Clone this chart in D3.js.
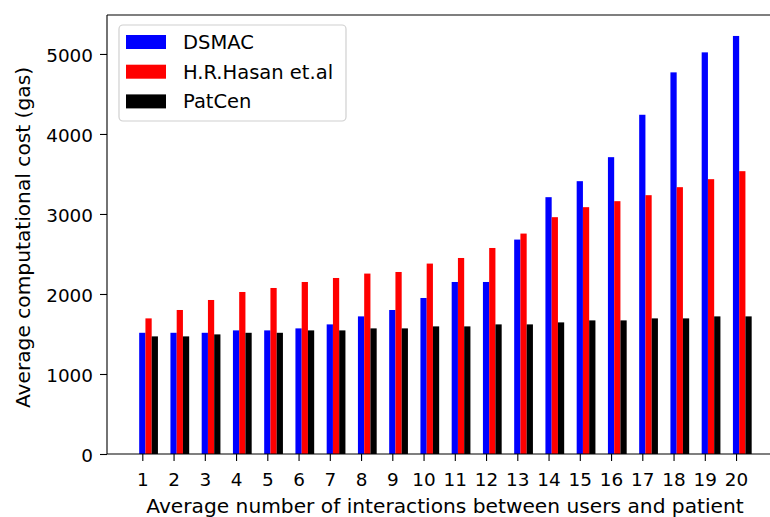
<!DOCTYPE html>
<html>
<head>
<meta charset="utf-8">
<script src="https://cdn.jsdelivr.net/npm/d3@7/dist/d3.min.js"></script>
<style>
  html, body { margin: 0; padding: 0; background: #fff; overflow: hidden; }
  svg { display: block; }
  text { font-family: "DejaVu Sans", sans-serif; fill: #000; }
</style>
</head>
<body>
<svg id="chart" width="770" height="517"></svg>
<script>
const categories = [1, 2, 3, 4, 5, 6, 7, 8, 9, 10, 11, 12, 13, 14, 15, 16, 17, 18, 19, 20];
const seriesNames = ["DSMAC", "H.R.Hasan et.al", "PatCen"];
const seriesColors = ["#0000ff", "#ff0000", "#000000"];
const dsmac  = [1515, 1515, 1515, 1545, 1545, 1570, 1620, 1720, 1800, 1950, 2150, 2150, 2680, 3210, 3410, 3710, 4240, 4770, 5020, 5225];
const hasan  = [1695, 1800, 1925, 2025, 2075, 2150, 2200, 2255, 2275, 2380, 2450, 2575, 2755, 2960, 3085, 3160, 3235, 3335, 3435, 3535];
const patcen = [1470, 1470, 1495, 1515, 1515, 1545, 1545, 1570, 1570, 1595, 1595, 1620, 1620, 1645, 1670, 1670, 1695, 1695, 1720, 1720];
const yTicks = [0, 1000, 2000, 3000, 4000, 5000];
const xLabel = "Average number of interactions between users and patient";
const yLabel = "Average computational cost (gas)";

(function () {
const series = [dsmac, hasan, patcen];
const barWidth = 0.2;

const svg = d3.select("#chart");
const mLeft = 107, mTop = 15, mBottom = 454, mRight = 782.3;
const x = d3.scaleLinear().domain([-0.13, 21.48]).range([mLeft, mRight]);
const y = d3.scaleLinear().domain([0, 5487]).range([mBottom, mTop]);
const fs = 18.4;
const lfs = 20.2;

series.forEach((vals, si) => {
  svg.append("g").selectAll("rect")
    .data(vals.map((v, i) => ({c: categories[i], v})))
    .join("rect")
    .attr("x", d => x(d.c + si * barWidth - barWidth / 2))
    .attr("width", d => x(d.c + si * barWidth + barWidth / 2) - x(d.c + si * barWidth - barWidth / 2))
    .attr("y", d => y(d.v))
    .attr("height", d => y(0) - y(d.v))
    .attr("fill", seriesColors[si]);
});

const xAxis = d3.axisBottom(x).tickValues(categories).tickSize(7).tickPadding(12).tickFormat(d3.format("d"));
const gx = svg.append("g").attr("transform", `translate(0,${mBottom})`).call(xAxis);
gx.select(".domain").remove();
gx.selectAll("line").attr("stroke", "#000").attr("stroke-width", 1.1);
gx.selectAll("text").style("font-size", fs + "px").attr("fill", "#000");

const yAxis = d3.axisLeft(y).tickValues(yTicks).tickSize(7).tickPadding(7).tickFormat(d3.format("d"));
const gy = svg.append("g").attr("transform", `translate(${mLeft},0)`).call(yAxis);
gy.select(".domain").remove();
gy.selectAll("line").attr("stroke", "#000").attr("stroke-width", 1.1);
gy.selectAll("text").style("font-size", fs + "px").attr("fill", "#000").attr("dy", "0.4em");

const spine = svg.append("g").attr("fill", "none").attr("stroke", "#000").attr("stroke-width", 1.1);
spine.append("line").attr("x1", mLeft).attr("x2", mLeft).attr("y1", mTop).attr("y2", mBottom);
spine.append("line").attr("x1", mLeft).attr("x2", mRight).attr("y1", mBottom).attr("y2", mBottom);
spine.append("line").attr("x1", mLeft).attr("x2", mRight).attr("y1", mTop).attr("y2", mTop);

svg.append("text").attr("x", 445).attr("y", 512.5)
  .attr("text-anchor", "middle").style("font-size", lfs + "px").text(xLabel);
svg.append("text").attr("transform", `translate(30,${237.5}) rotate(-90)`)
  .attr("text-anchor", "middle").style("font-size", lfs + "px").text(yLabel);

const lg = svg.append("g");
lg.append("rect").attr("x", 119).attr("y", 25).attr("width", 227).attr("height", 96)
  .attr("rx", 4).attr("fill", "#fff").attr("fill-opacity", 0.8)
  .attr("stroke", "#d0d0d0").attr("stroke-width", 1.2);
seriesNames.forEach((name, i) => {
  const cy = 42 + i * 29.7;
  lg.append("rect").attr("x", 126).attr("y", cy - 7).attr("width", 40).attr("height", 14)
    .attr("fill", seriesColors[i]);
  lg.append("text").attr("x", 183).attr("y", cy + 7)
    .style("font-size", "19.5px").text(name);
});
})();
</script>
</body>
</html>
